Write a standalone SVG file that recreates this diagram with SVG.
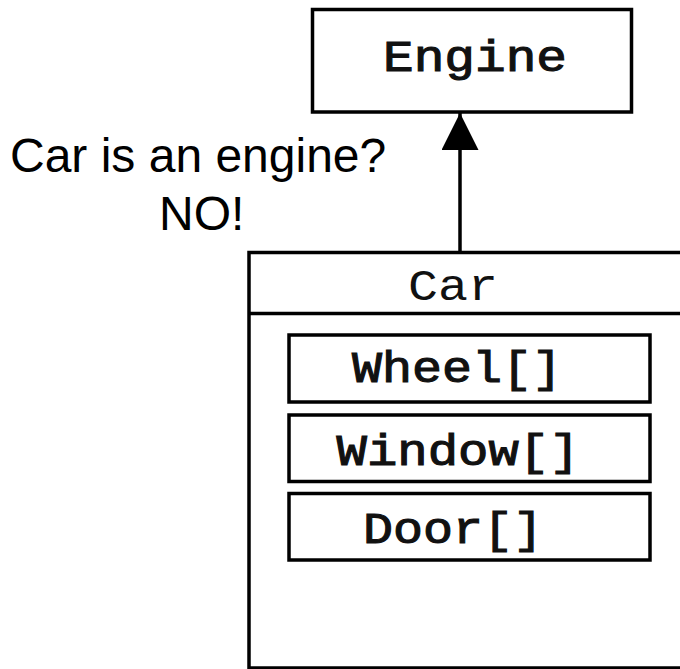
<svg xmlns="http://www.w3.org/2000/svg" width="680" height="669" viewBox="0 0 680 669">
  <defs>
    <style>
      .box { fill: #ffffff; stroke: #000000; stroke-width: 3.5; }
      .mono { font-family: "Liberation Mono", "Courier New", monospace; font-size: 44px; fill: #111111; text-anchor: middle; }
      .bold { stroke: #111111; stroke-width: 1.1; }
      .note { font-family: "Liberation Sans", Arial, sans-serif; font-size: 48px; fill: #000000; }
      .link { stroke: #000000; stroke-width: 3.5; fill: none; }
    </style>
    <marker id="head" markerUnits="userSpaceOnUse" markerWidth="40" markerHeight="37" refX="40" refY="20" orient="auto" viewBox="0 0 40 40">
      <polygon points="0,0 40,20 0,40" fill="#000000"/>
    </marker>
  </defs>
  <rect width="680" height="669" fill="#ffffff"/>

  <!-- superclass -->
  <g id="engine">
    <rect class="box" x="312.5" y="9.5" width="319" height="102.5"/>
    <text class="mono bold" x="475" y="71" textLength="184" lengthAdjust="spacingAndGlyphs">Engine</text>
  </g>

  <!-- class with its parts -->
  <g id="car">
    <rect class="box" x="249" y="252.5" width="500" height="415.5"/>
    <line x1="249" y1="313.5" x2="680" y2="313.5" stroke="#000000" stroke-width="3.5"/>
    <text class="mono" x="453" y="300" textLength="90" lengthAdjust="spacingAndGlyphs">Car</text>
  </g>
  <g id="wheel">
    <rect class="box" x="289" y="335" width="361" height="67"/>
    <text class="mono bold" x="457" y="382" textLength="210" lengthAdjust="spacingAndGlyphs">Wheel[]</text>
  </g>
  <g id="window">
    <rect class="box" x="289" y="415" width="361" height="66.5"/>
    <text class="mono bold" x="458" y="465" textLength="243" lengthAdjust="spacingAndGlyphs">Window[]</text>
  </g>
  <g id="door">
    <rect class="box" x="289" y="493.5" width="361" height="66.5"/>
    <text class="mono bold" x="453" y="543" textLength="180" lengthAdjust="spacingAndGlyphs">Door[]</text>
  </g>

  <!-- inheritance arrow -->
  <g id="connectors">
    <line class="link" x1="460" y1="252.5" x2="460" y2="113" marker-end="url(#head)"/>
  </g>

  <g id="note">
    <text class="note" x="10" y="172">Car is an engine?</text>
    <text class="note" x="159" y="230">NO!</text>
  </g>
</svg>
